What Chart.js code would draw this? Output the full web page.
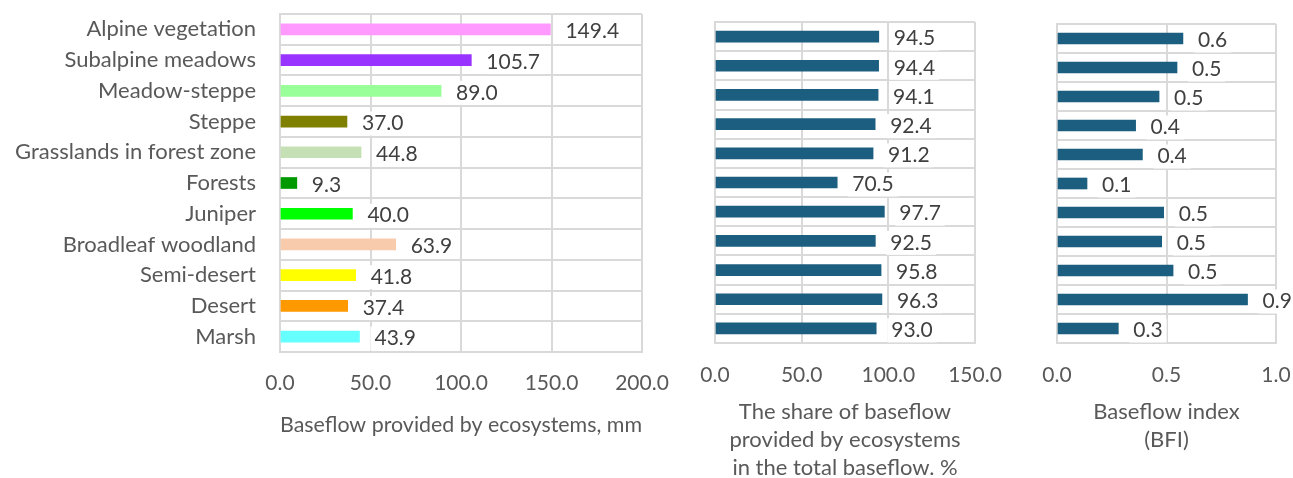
<!DOCTYPE html>
<html lang="en">
<head>
<meta charset="UTF-8">
<title>Baseflow provided by ecosystems</title>
<script src="https://cdn.jsdelivr.net/npm/chart.js@4.4.0/dist/chart.umd.min.js"></script>
<style>
    html, body {
        margin: 0;
        padding: 0;
        background: #fff;
        overflow: hidden;
        width: 1293px;
        height: 478px;
    }
    .panel {
        position: absolute;
        top: 0;
    }
</style>
</head>
<body>
<div class="panel" style="left:0px"><canvas id="chartMm" width="680" height="500"></canvas></div>
<div class="panel" style="left:690px"><canvas id="chartShare" width="320" height="500"></canvas></div>
<div class="panel" style="left:1030px"><canvas id="chartBfi" width="263" height="500"></canvas></div>

<script>
    // data
    const categories = [
        'Alpine vegetation', 'Subalpine meadows', 'Meadow-steppe', 'Steppe',
        'Grasslands in forest zone', 'Forests', 'Juniper', 'Broadleaf woodland',
        'Semi-desert', 'Desert', 'Marsh'
    ];
    const baseflowMm = [149.4, 105.7, 89.0, 37.0, 44.8, 9.3, 40.0, 63.9, 41.8, 37.4, 43.9];
    const baseflowShare = [94.5, 94.4, 94.1, 92.4, 91.2, 70.5, 97.7, 92.5, 95.8, 96.3, 93.0];
    const baseflowIndex = [0.575, 0.548, 0.466, 0.359, 0.39, 0.137, 0.487, 0.478, 0.53, 0.87, 0.28];
    const ecosystemColors = [
        '#FF99FF', '#9933FF', '#99FF99', '#808000', '#C5E0B4', '#009900',
        '#00FF00', '#F8CBAD', '#FFFF00', '#FF9900', '#66FFFF'
    ];
    const titleMm = 'Baseflow provided by ecosystems, mm';
    const titleShare = ['The share of baseflow', 'provided by ecosystems', 'in the total baseflow. %'];
    const titleBfi = ['Baseflow index', '(BFI)'];

    const FONT = 'Lato, Calibri, Carlito, sans-serif';
    const GRID = '#D9D9D9';
    const TEXT = '#595959';

    // value labels at the end of each bar, white box behind like in Excel
    const barLabels = {
        id: 'barLabels',
        afterDatasetsDraw(chart) {
            const ctx = chart.ctx;
            const meta = chart.getDatasetMeta(0);
            const values = chart.data.datasets[0].data;
            ctx.save();
            ctx.font = '21px ' + FONT;
            ctx.textBaseline = 'middle';
            meta.data.forEach((bar, i) => {
                const txt = values[i].toFixed(1);
                const x = bar.x + 15;
                const y = bar.y + 2;
                const w = ctx.measureText(txt).width;
                ctx.fillStyle = '#fff';
                ctx.fillRect(x - 4, y - 12, w + 8, 24);
                ctx.fillStyle = '#404040';
                ctx.fillText(txt, x, y);
            });
            ctx.restore();
        }
    };

    function makeChart(id, values, colors, xMax, xStep, xTitle, opt) {
        const ctx = document.getElementById(id).getContext('2d');
        return new Chart(ctx, {
            type: 'bar',
            data: {
                labels: categories,
                datasets: [{
                    data: values,
                    backgroundColor: colors,
                    barThickness: 11
                }]
            },
            options: {
                indexAxis: 'y',
                responsive: false,
                animation: false,
                devicePixelRatio: 1,
                layout: { padding: opt.padding },
                plugins: {
                    legend: { display: false },
                    tooltip: { enabled: false }
                },
                scales: {
                    x: {
                        min: 0,
                        max: xMax,
                        // fixed axis height, let layout padding decide the plot edges
                        afterFit: s => {
                            s.height = opt.xHeight;
                            s.paddingLeft = 0;
                            s.paddingRight = 0;
                        },
                        grid: { color: GRID, lineWidth: 2, drawTicks: false },
                        border: { color: GRID, width: 2 },
                        ticks: {
                            stepSize: xStep,
                            padding: opt.tickPad,
                            color: TEXT,
                            font: { family: FONT, size: 21 },
                            maxRotation: 0,
                            callback: v => Number(v).toFixed(1)
                        },
                        title: {
                            display: true,
                            text: xTitle,
                            color: TEXT,
                            font: { family: FONT, size: 22, lineHeight: 1.27 },
                            padding: { top: 0, bottom: opt.titlePad }
                        }
                    },
                    y: {
                        afterFit: s => {
                            s.width = opt.yWidth;
                            s.paddingTop = 0;
                            s.paddingBottom = 0;
                        },
                        grid: { color: GRID, lineWidth: 2, drawTicks: false, offset: true },
                        border: { color: GRID, width: 2 },
                        ticks: {
                            display: opt.showCats,
                            padding: 24,
                            color: TEXT,
                            font: { family: FONT, size: 22 }
                        }
                    }
                }
            },
            plugins: [barLabels]
        });
    }

    makeChart('chartMm', baseflowMm, ecosystemColors, 200, 50, titleMm, {
        padding: { left: 0, right: 38, top: 14, bottom: 0 },
        xHeight: 148, tickPad: 19, titlePad: 61, yWidth: 280, showCats: true
    });

    makeChart('chartShare', baseflowShare, '#1B5E7F', 150, 50, titleShare, {
        padding: { left: 25, right: 35, top: 22, bottom: 0 },
        xHeight: 157, tickPad: 20, titlePad: 18, yWidth: 0, showCats: false
    });

    makeChart('chartBfi', baseflowIndex, '#1B5E7F', 1.0, 0.5, titleBfi, {
        padding: { left: 27, right: 17, top: 24, bottom: 0 },
        xHeight: 157, tickPad: 20, titlePad: 46, yWidth: 0, showCats: false
    });
</script>
</body>
</html>
